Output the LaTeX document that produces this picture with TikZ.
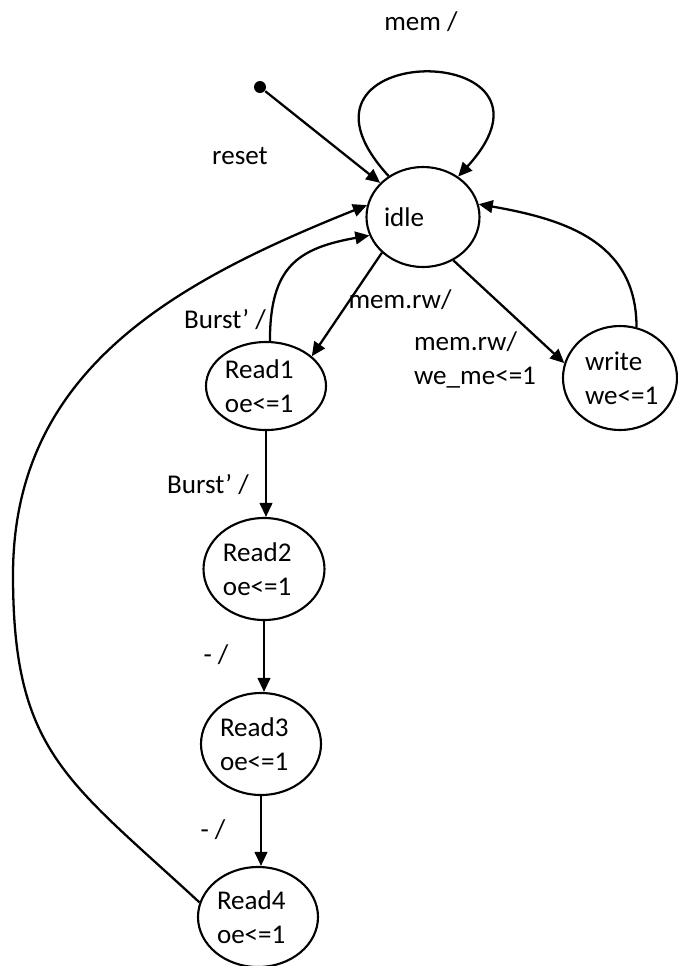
\documentclass[tikz,border=0pt]{standalone}
\usepackage{fontspec}
\setmainfont{Carlito}
\usetikzlibrary{arrows.meta,shapes.geometric}

\begin{document}
\begin{tikzpicture}[scale=1.0, >={Triangle[length=4pt,width=3.6pt]},
  every node/.style={font=\fontsize{7.7pt}{9.8pt}\selectfont},
  fsm/.style={draw, ellipse, line width=0.6pt, inner sep=0pt, align=left},
  wire/.style={->, line width=0.65pt}]

  \useasboundingbox (0,0) rectangle (6.77,-9.66);

  % states
  \node[fsm, minimum width=1.13cm, minimum height=1.00cm, text width=0.78cm] (idle) at (4.23,-2.17) {idle};
  \node[fsm, minimum width=1.20cm, minimum height=0.88cm, text width=0.82cm] (Read1) at (2.66,-3.86) {Read1\\oe<=1};
  \node[fsm, minimum width=1.14cm, minimum height=1.04cm, text width=0.70cm] (write) at (6.20,-3.78) {write\\we<=1};
  \node[fsm, minimum width=1.21cm, minimum height=1.02cm, text width=0.82cm] (Read2) at (2.64,-5.69) {Read2\\oe<=1};
  \node[fsm, minimum width=1.20cm, minimum height=1.02cm, text width=0.82cm] (Read3) at (2.61,-7.44) {Read3\\oe<=1};
  \node[fsm, minimum width=1.20cm, minimum height=1.00cm, text width=0.82cm] (Read4) at (2.58,-9.17) {Read4\\oe<=1};

  \node[fill, circle, inner sep=0pt, minimum size=0.12cm] (start) at (2.60,-0.87) {};

  % labels
  \node (lmem)    at (4.21,-0.22) {mem /};
  \node (lreset)  at (2.40,-1.56) {reset};
  \node (lburst1) at (2.25,-3.20) {Burst' /};
  \node (lrw)     at (4.00,-3.00) {mem.rw/};
  \node[align=left] (lrwwe) at (4.75,-3.60) {mem.rw/\\we\_me<=1};
  \node (lburst2) at (2.08,-4.85) {Burst' /};
  \node (ldash1)  at (2.16,-6.55) {- /};
  \node (ldash2)  at (2.13,-8.30) {- /};

  % transitions
  \draw[wire] (start) -- (idle);
  \draw[wire] (idle.130) .. controls (2.62,-0.38) and (5.85,-0.38) .. (idle.49);
  \draw[wire] (idle.221) -- (Read1.33);
  \draw[wire] (idle.305) -- (write.165);
  \draw[wire] (write.72) to[out=90, in=-10, looseness=1.1] (idle.13);
  \draw[wire] (Read1.85) to[out=90, in=190, looseness=1.3] (idle.199);
  \draw[wire] (Read1.south) -- (Read1.south |- Read2.north);
  \draw[wire] (Read2.south) -- (Read2.south |- Read3.north);
  \draw[wire] (Read3.south) -- (Read3.south |- Read4.north);
  \draw[wire] (Read4.166) .. controls (0.67,-7.80) and (0.13,-7.52) .. (0.13,-5.75)
    .. controls (0.13,-3.70) and (1.75,-2.82) .. (idle.168);

\end{tikzpicture}
\end{document}
